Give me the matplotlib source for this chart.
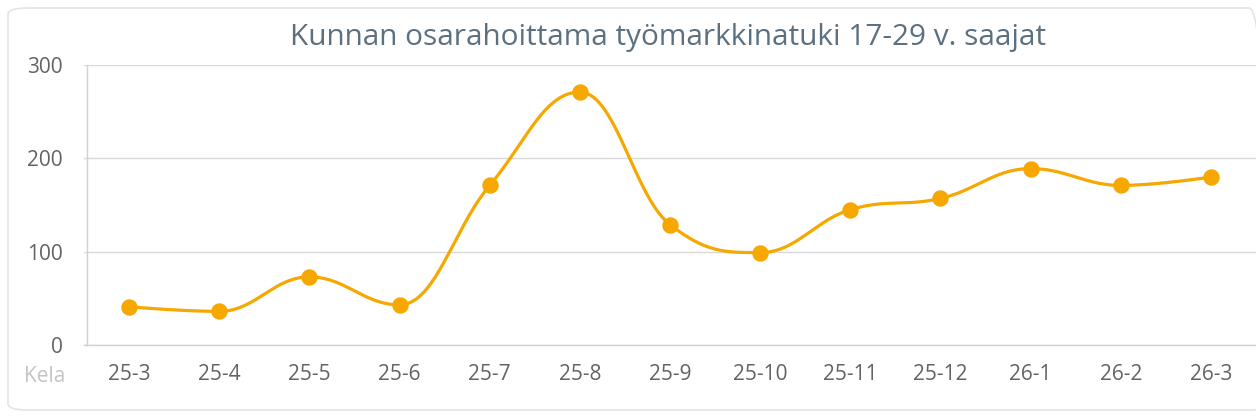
import matplotlib
matplotlib.use('Agg')
import matplotlib.pyplot as plt
from matplotlib.patches import FancyBboxPatch
import numpy as np

plt.rcParams['font.family'] = ['Open Sans', 'DejaVu Sans']

# data
months = ['25-3', '25-4', '25-5', '25-6', '25-7', '25-8', '25-9',
          '25-10', '25-11', '25-12', '26-1', '26-2', '26-3']
recipients = [41, 36, 73, 43, 171, 271, 129, 99, 145, 157, 189, 171, 180]
y_ticks = [0, 100, 200, 300]

TITLE = 'Kunnan osarahoittama työmarkkinatuki 17-29 v. saajat'
LINE_COLOR = '#f6a700'


def spline_path(xs, ys, smoothing=1.5, steps=40):
    """Highcharts-style spline through the points."""
    n = len(xs)
    denom = smoothing + 1
    left = [(xs[0], ys[0])] * n
    right = [(xs[0], ys[0])] * n
    for i in range(n):
        x, y = xs[i], ys[i]
        if i == 0 or i == n - 1:
            left[i] = (x, y)
            right[i] = (x, y)
            continue
        lx, ly = xs[i - 1], ys[i - 1]
        nx, ny = xs[i + 1], ys[i + 1]
        lcx = (smoothing * x + lx) / denom
        lcy = (smoothing * y + ly) / denom
        rcx = (smoothing * x + nx) / denom
        rcy = (smoothing * y + ny) / denom
        if rcx != lcx:
            corr = (rcy - lcy) * (rcx - x) / (rcx - lcx) + y - rcy
            lcy += corr
            rcy += corr
        if lcy > ly and lcy > y:
            lcy = max(ly, y)
            rcy = 2 * y - lcy
        elif lcy < ly and lcy < y:
            lcy = min(ly, y)
            rcy = 2 * y - lcy
        if rcy > ny and rcy > y:
            rcy = max(ny, y)
            lcy = 2 * y - rcy
        elif rcy < ny and rcy < y:
            rcy = min(ny, y)
            lcy = 2 * y - rcy
        left[i] = (lcx, lcy)
        right[i] = (rcx, rcy)
    t = np.linspace(0, 1, steps)
    px, py = [], []
    for i in range(1, n):
        p0 = np.array([xs[i - 1], ys[i - 1]])
        p1 = np.array(right[i - 1])
        p2 = np.array(left[i])
        p3 = np.array([xs[i], ys[i]])
        pts = ((1 - t)[:, None] ** 3 * p0 + 3 * ((1 - t) ** 2 * t)[:, None] * p1
               + 3 * ((1 - t) * t ** 2)[:, None] * p2 + (t ** 3)[:, None] * p3)
        px.extend(pts[:, 0])
        py.extend(pts[:, 1])
    return np.array(px), np.array(py)


fig = plt.figure(figsize=(12.56, 4.19), dpi=100)
fig.patch.set_facecolor('white')

# card outline
card = FancyBboxPatch((8 / 1256, 9 / 419), 1260 / 1256, 402 / 419,
                      boxstyle='round,pad=0,rounding_size=0.015',
                      transform=fig.transFigure, facecolor='none',
                      edgecolor='#e4e4e4', linewidth=1.2, zorder=-1)
fig.patches.append(card)

ax = fig.add_axes([84 / 1256, 74 / 419, 1172 / 1256, 280 / 419])
ax.set_facecolor('none')

x = np.arange(len(months))
sx, sy = spline_path(x.astype(float), np.array(recipients, dtype=float))
ax.plot(sx, sy, color=LINE_COLOR, linewidth=2.3, zorder=3, solid_capstyle='round')
ax.plot(x, recipients, 'o', color=LINE_COLOR, markersize=10.8, zorder=4)

ax.set_xlim(-0.5, len(months) - 0.5)
ax.set_ylim(0, 300)
ax.set_yticks(y_ticks)
ax.set_xticks(x)
ax.set_xticklabels(months)

ax.grid(axis='y', color='#d9d9d9', linewidth=1.0)
ax.set_axisbelow(True)
for side in ['top', 'right']:
    ax.spines[side].set_visible(False)
for side in ['left', 'bottom']:
    ax.spines[side].set_color('#d0d0d0')
    ax.spines[side].set_linewidth(1.0)
ax.spines['left'].set_position(('data', -0.47))

ax.tick_params(axis='both', length=0, labelsize=15, labelcolor='#636363')
ax.tick_params(axis='y', pad=17)
ax.tick_params(axis='x', pad=14)

fig.text(668 / 1256, 381 / 419, TITLE, ha='center', va='center',
         fontsize=21.4, color='#5c7080')
fig.text(45 / 1256, 43 / 419, 'Kela', ha='center', va='center',
         fontsize=15, color='#c4c4c4')

fig.savefig('out.png', dpi=100, facecolor=fig.get_facecolor())
